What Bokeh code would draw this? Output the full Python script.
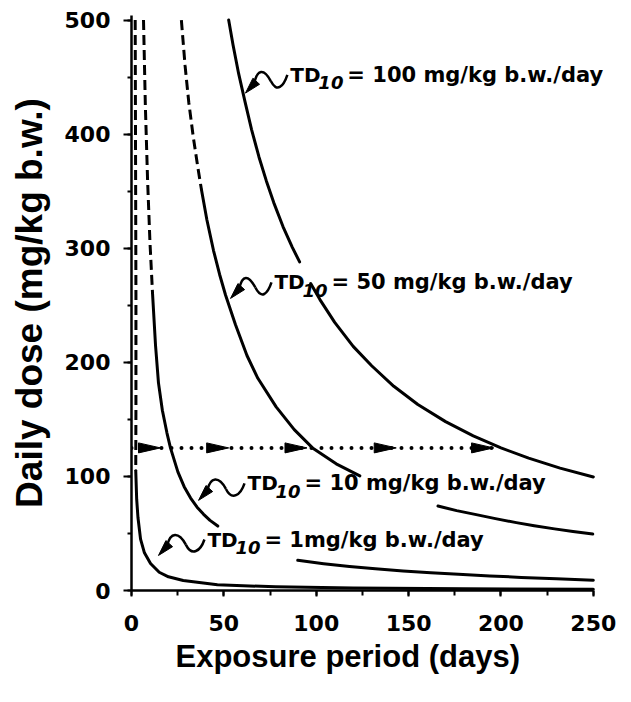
import math
from bokeh.plotting import figure
from bokeh.models import Range1d, SingleIntervalTicker, LabelSet, ColumnDataSource, Title
from bokeh.core.properties import value
from bokeh.embed import file_html
from bokeh.resources import INLINE

NaN = float("nan")

# ---- data (days, mg/kg b.w.) ----
td100_x = [52.6, 55, 58, 61.5, 65, 69, 73, 77, 82, 87, 91, NaN,
           97, 102, 110, 120, 130, 142, 155, 170, 185, 200, 215, 232, 250]
td100_y = [500, 478, 453, 428, 404, 380, 359, 340, 319, 301, 288, NaN,
           269, 255, 235, 214, 197, 179, 163, 148, 135.5, 125, 116, 107.3, 99.5]

td50_dash_x = [27.0, 29.0, 31.0, 33.4, 35.9, 37.9]
td50_dash_y = [500, 460, 428, 398, 371, 351]
td50_x = [37.9, 40.8, 44.4, 47.7, 50.9, 56.3, 62.5, 68.4, 78.3, 88.1, 98, 110.8, 123.6, NaN,
          165.9, 176, 186.6, 197, 208.3, 218, 229, 239, 249.7]
td50_y = [351, 325, 298, 277, 259, 233, 206, 186, 161, 141, 125, 111, 100.5, NaN,
          74, 70, 66.5, 63, 59.5, 56.8, 54, 51.7, 49.5]

td10_dash_x = [6.5, 7.5, 8.7, 10, 11.4]
td10_dash_y = [500, 425, 360, 305, 260]
td10_x = [11.4, 13.0, 14.6, 16.7, 19.2, 21.1, 25.1, 28.5, 32, 35.5, 38.9, 42.5, 46.7, NaN,
          90, 104, 118, 132, 147, 162, 177, 194, 211, 230, 250]
td10_y = [260, 215, 182, 158, 138, 125, 104, 91, 81, 73, 67, 61.5, 56.5, NaN,
          26.5, 23.5, 21, 19, 17, 15.5, 14.2, 12.8, 11.5, 10.2, 9]

td1_dash_x = [2.0, 2.2, 2.4, 2.4, 2.3]
td1_dash_y = [500, 380, 260, 160, 105]
td1_x = [2.3, 2.8, 3.5, 4.9, 7, 10.3, 15, 20, 28, 46.5, 78, 120, 180, 250]
td1_y = [105, 80, 64, 45, 33, 23.7, 16, 12, 8.8, 5, 3.2, 2.2, 1.5, 1]

# dotted guide line at a daily dose of 125
guide_dose = 125
guide_x = [0, 196]
guide_arrow_x = [15.7, 52.6, 95, 143.3, 196]

# labels: TD10 values, text, arrow tip (days, dose), text start (days, dose)
label_td = ["100", "50", "10", "1"]
label_rest = ["= 100 mg/kg b.w./day", "= 50 mg/kg b.w./day", "= 10 mg/kg b.w./day", "= 1mg/kg b.w./day"]
label_tip_x = [61.7, 53.6, 36.3, 14.6]
label_tip_y = [436, 256, 79, 30.7]
label_text_x = [86.0, 77.4, 62.8, 41.1]
label_text_y = [452, 270, 93.9, 44.7]

x_axis_end = 250
x_ticks_step = 50
y_ticks_step = 100

# ---- figure ----
W, H = 631, 702
ML, MR, MT, MB = 131, 16, 15, 112
X0, X1, Y0, Y1 = 0, 262, 0, 504
SX = (W - ML - MR) / (X1 - X0)   # px per day
SY = (H - MT - MB) / (Y1 - Y0)   # px per dose unit

p = figure(width=W, height=H, output_backend="svg", toolbar_location=None,
           x_range=Range1d(X0, X1), y_range=Range1d(Y0, Y1),
           min_border_left=ML, min_border_right=MR, min_border_top=MT, min_border_bottom=MB)
p.outline_line_color = None
p.xgrid.visible = False
p.ygrid.visible = False
p.background_fill_color = "white"
p.border_fill_color = "white"

LW = 3
for xs, ys in [(td100_x, td100_y), (td50_x, td50_y), (td10_x, td10_y), (td1_x, td1_y)]:
    p.line(xs, ys, line_color="black", line_width=LW, line_join="round", line_cap="round")
for xs, ys in [(td50_dash_x, td50_dash_y), (td10_dash_x, td10_dash_y), (td1_dash_x, td1_dash_y)]:
    p.line(xs, ys, line_color="black", line_width=LW, line_dash="10 5")

# dotted guide line
p.line(guide_x, [guide_dose, guide_dose], line_color="black", line_width=4,
       line_dash="0 10", line_cap="round")
# arrow heads on the guide line (pointing right)
ah_len, ah_half = 22 / SX, 5 / SY
hx, hy = [], []
for tx in guide_arrow_x:
    hx.append([tx, tx - ah_len, tx - ah_len])
    hy.append([guide_dose, guide_dose + ah_half, guide_dose - ah_half])
p.patches(hx, hy, fill_color="black", line_color="black", line_width=1)

# squiggly label arrows
def to_data(tx, ty, dx_px, dy_px):
    return tx + dx_px / SX, ty - dy_px / SY

bx, by = [], []
b = {k: [] for k in ["x0", "y0", "x1", "y1", "cx0", "cy0", "cx1", "cy1"]}
for tx, ty, sx_, sy_ in zip(label_tip_x, label_tip_y, label_text_x, label_text_y):
    ux, uy = 10 / math.hypot(10, 11), -11 / math.hypot(10, 11)
    px_, py_ = -uy, ux
    L, Hw = 16, 4.5
    base = (L * ux, L * uy)
    c1 = (base[0] + Hw * px_, base[1] + Hw * py_)
    c2 = (base[0] - Hw * px_, base[1] - Hw * py_)
    pts = [(0, 0), c1, c2]
    bx.append([to_data(tx, ty, a, c)[0] for a, c in pts])
    by.append([to_data(tx, ty, a, c)[1] for a, c in pts])
    ex = (sx_ - tx) * SX - 3
    ey = -(sy_ - ty) * SY
    S = (base[0] - 2, base[1] + 2)
    M = ((S[0] + ex) / 2, (S[1] + ey) / 2 + 2)
    segs = [(S, (S[0] + 3, S[1] - 14), (M[0] - 7, M[1] - 13), M),
            (M, (M[0] + 6, M[1] + 12), (ex - 4, ey + 12), (ex, ey))]
    for s0, c0, c1_, s1 in segs:
        for key, pt in [("x0", s0), ("cx0", c0), ("cx1", c1_), ("x1", s1)]:
            dx_, dy_ = to_data(tx, ty, pt[0], pt[1])
            b[key].append(dx_)
            b[key.replace("x", "y")].append(dy_)
p.patches(bx, by, fill_color="black", line_color="black", line_width=1)
p.bezier(x0=b["x0"], y0=b["y0"], x1=b["x1"], y1=b["y1"], cx0=b["cx0"], cy0=b["cy0"],
         cx1=b["cx1"], cy1=b["cy1"], line_color="black", line_width=2.5)

n = len(label_td)
src = ColumnDataSource(dict(x=label_text_x, y=label_text_y, td=["TD"] * n,
                            sub=["10"] * n, rest=label_rest))
common = dict(x="x", y="y", source=src, text_font=value("DejaVu Sans"),
              text_baseline=value("middle"), text_align=value("left"),
              text_color=value("black"))
p.add_layout(LabelSet(text="td", text_font_size=value("20px"),
                      text_font_style=value("bold"), **common))
p.add_layout(LabelSet(text="sub", text_font_size=value("18px"),
                      text_font_style=value("bold italic"),
                      x_offset=28, y_offset=-8, **common))
p.add_layout(LabelSet(text="rest", text_font_size=value("21px"),
                      text_font_style=value("bold"), x_offset=57, **common))

# axes
for ax, step in [(p.xaxis[0], x_ticks_step), (p.yaxis[0], y_ticks_step)]:
    ax.ticker = SingleIntervalTicker(interval=step, num_minor_ticks=2)
    ax.axis_line_width = 2.5
    ax.major_tick_line_width = 2
    ax.minor_tick_line_width = 2
    ax.major_tick_in = 0
    ax.minor_tick_in = 0
    ax.major_label_text_font = "DejaVu Sans"
    ax.major_label_text_font_style = "bold"
    ax.major_label_text_font_size = "22px"
    ax.major_label_text_color = "black"
    ax.axis_label_text_font = "Liberation Sans"
    ax.axis_label_text_font_style = "bold"
    ax.axis_label_text_color = "black"

p.xaxis.bounds = (0, x_axis_end)
p.xaxis.major_tick_out = 6
p.xaxis.minor_tick_out = 5
p.xaxis.major_label_standoff = 18

# x-axis title, left-aligned under the axis so it sits where the original does
p.add_layout(Title(text="Exposure period (days)", align="left", offset=44, standoff=6,
                   text_font="Liberation Sans", text_font_size="31px",
                   text_font_style="bold", text_color="black"), "below")

p.yaxis.axis_label = "Daily dose (mg/kg b.w.)"
p.yaxis.axis_label_text_font_size = "37px"
p.yaxis.major_tick_out = 8
p.yaxis.minor_tick_out = 4
p.yaxis.major_label_standoff = 13
p.yaxis.axis_label_standoff = 12

open("out.html", "w").write(file_html(p, INLINE))
